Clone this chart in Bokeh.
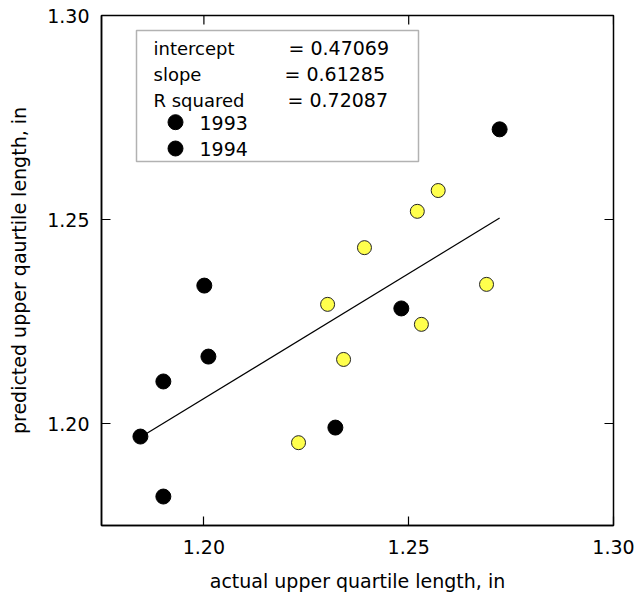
from bokeh.plotting import figure
from bokeh.models import (Range1d, FixedTicker, PrintfTickFormatter,
                          BoxAnnotation, Label)
from bokeh.embed import file_html
from bokeh.resources import INLINE

# ---- data ----
x_1993 = [1.1845, 1.1901, 1.1901, 1.2001, 1.2011, 1.2321, 1.2482, 1.2722]
y_1993 = [1.1968, 1.2103, 1.1821, 1.2338, 1.2164, 1.1990, 1.2282, 1.2721]
x_1994 = [1.2231, 1.2302, 1.2341, 1.2392, 1.2521, 1.2531, 1.2572, 1.2690]
y_1994 = [1.1953, 1.2292, 1.2157, 1.2431, 1.2520, 1.2243, 1.2571, 1.2341]
intercept = 0.47069
slope = 0.61285
r_squared = 0.72087
x_ticks = [1.20, 1.25, 1.30]
y_ticks = [1.20, 1.25, 1.30]
stat_names = ["intercept", "slope", "R squared"]
stat_values = [intercept, slope, r_squared]
series_names = ["1993", "1994"]

X0, X1 = 1.175, 1.30
Y0, Y1 = 1.175, 1.30
FRAME_L, FRAME_T, FRAME_W, FRAME_H = 101, 15, 512, 510
TICK_PX = 9

FONT = "DejaVu Sans"

p = figure(width=639, height=602, output_backend="svg", toolbar_location=None,
           x_range=Range1d(X0, X1), y_range=Range1d(Y0, Y1),
           min_border_left=FRAME_L, min_border_top=FRAME_T,
           min_border_right=639 - FRAME_L - FRAME_W,
           min_border_bottom=602 - FRAME_T - FRAME_H,
           x_axis_label="actual upper quartile length, in",
           y_axis_label="predicted upper qaurtile length, in")
p.background_fill_color = "white"
p.border_fill_color = "white"
p.outline_line_color = "black"
p.outline_line_width = 1.5
p.xgrid.visible = False
p.ygrid.visible = False

def style_axis(ax, ticks):
    ax.ticker = FixedTicker(ticks=ticks)
    ax.formatter = PrintfTickFormatter(format="%.2f")
    ax.major_tick_in = TICK_PX
    ax.major_tick_out = 0
    ax.minor_tick_in = 0
    ax.minor_tick_out = 0
    ax.major_tick_line_color = "black"
    ax.major_tick_line_width = 1.2
    ax.axis_line_color = "black"
    ax.axis_line_width = 1.5
    ax.major_label_text_font = FONT
    ax.major_label_text_font_size = "19px"
    ax.major_label_text_color = "black"
    ax.axis_label_text_font = FONT
    ax.axis_label_text_font_size = "19px"
    ax.axis_label_text_font_style = "normal"
    ax.axis_label_text_color = "black"

style_axis(p.xaxis[0], x_ticks)
style_axis(p.yaxis[0], y_ticks)
p.xaxis[0].major_label_standoff = 14
p.xaxis[0].axis_label_standoff = 13
p.yaxis[0].major_label_standoff = 12
p.yaxis[0].axis_label_standoff = 14

# ---- layout helpers: pixel -> data ----
def dx(px):
    return X0 + (px - FRAME_L) / FRAME_W * (X1 - X0)

def dy(py):
    return Y1 - (py - FRAME_T) / FRAME_H * (Y1 - Y0)

tick_dx = TICK_PX / FRAME_W * (X1 - X0)
tick_dy = TICK_PX / FRAME_H * (Y1 - Y0)

# inward ticks on top and right frame edges
p.segment(x0=x_ticks, y0=[Y1] * len(x_ticks), x1=x_ticks,
          y1=[Y1 - tick_dy] * len(x_ticks), line_color="black", line_width=1.2)
p.segment(x0=[X1] * len(y_ticks), y0=y_ticks, x1=[X1 - tick_dx] * len(y_ticks),
          y1=y_ticks, line_color="black", line_width=1.2)

# regression line
xmin = min(x_1993 + x_1994)
xmax = max(x_1993 + x_1994)
p.line([xmin, xmax], [intercept + slope * xmin, intercept + slope * xmax],
       line_color="black", line_width=1.2)

# points
p.scatter(x_1993, y_1993, size=15, fill_color="black", line_color="black")
p.scatter(x_1994, y_1994, size=14, fill_color="#FFFF4D", line_color="#222222",
          line_width=1)

# ---- legend box ----
p.add_layout(BoxAnnotation(left=dx(136), right=dx(418), top=dy(30), bottom=dy(161),
                           fill_color="white", fill_alpha=1.0,
                           line_color="black", line_width=1.5, level="underlay"))

row_base = [47.5, 73.5, 99.5]
val_x = [288, 284, 287]
for name, val, yb, vx in zip(stat_names, stat_values, row_base, val_x):
    p.add_layout(Label(x=dx(153), y=dy(yb), text=name, text_font=FONT,
                       text_font_size="18px", text_baseline="alphabetic",
                       text_align="left", text_color="black"))
    p.add_layout(Label(x=dx(vx), y=dy(yb), text="= %.5f" % val, text_font=FONT,
                       text_font_size="19px", text_baseline="alphabetic",
                       text_align="left", text_color="black"))

leg_base = [122, 148.5]
leg_center = [121.7, 148]
p.scatter([dx(175), dx(175)], [dy(c) for c in leg_center], size=15,
          fill_color="black", line_color="black")
for name, yb in zip(series_names, leg_base):
    p.add_layout(Label(x=dx(199), y=dy(yb), text=name, text_font=FONT,
                       text_font_size="19px", text_baseline="alphabetic",
                       text_align="left", text_color="black"))

open("out.html", "w").write(file_html(p, INLINE))
